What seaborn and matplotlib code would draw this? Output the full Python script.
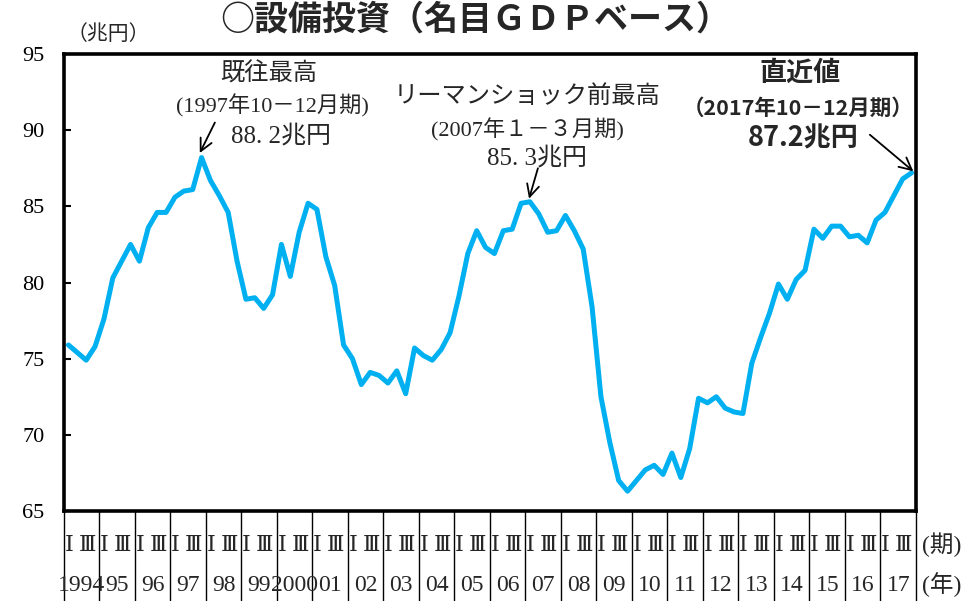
import numpy as np
import pandas as pd
import matplotlib
matplotlib.use('Agg')
import matplotlib.pyplot as plt
import matplotlib.transforms as mtransforms
import seaborn as sns

# ---- data ----
years = ['1994', '95', '96', '97', '98', '99', '2000', '01', '02', '03', '04', '05',
         '06', '07', '08', '09', '10', '11', '12', '13', '14', '15', '16', '17']
quarter_marks = ['Ⅰ', 'Ⅲ']
values = [75.9, 75.4, 74.9, 75.8, 77.6, 80.3, 81.4, 82.5, 81.4, 83.6,
          84.6, 84.6, 85.6, 86.0, 86.1, 88.2, 86.7, 85.7, 84.6, 81.4,
          78.9, 79.0, 78.3, 79.2, 82.5, 80.4, 83.3, 85.2, 84.8, 81.7,
          79.8, 75.9, 75.0, 73.3, 74.1, 73.9, 73.4, 74.2, 72.7, 75.7,
          75.2, 74.9, 75.6, 76.7, 79.1, 81.9, 83.4, 82.3, 81.9, 83.4,
          83.5, 85.2, 85.3, 84.5, 83.3, 83.4, 84.4, 83.4, 82.2, 78.4,
          72.5, 69.5, 67.0, 66.3, 67.0, 67.7, 68.0, 67.4, 68.8, 67.2,
          69.1, 72.4, 72.1, 72.5, 71.75, 71.5, 71.4, 74.7, 76.4, 78.0,
          79.9, 78.9, 80.2, 80.8, 83.5, 82.9, 83.7, 83.7, 83.0, 83.1,
          82.6, 84.1, 84.6, 85.7, 86.8, 87.2]
yticks = [65, 70, 75, 80, 85, 90, 95]

sns.set_style('white')
plt.rcParams['font.family'] = ['Liberation Serif', 'Noto Sans CJK JP']
JP = ['Liberation Serif', 'Noto Sans CJK JP']
GOTH = ['Noto Sans CJK JP']
ROMAN = ['DejaVu Serif', 'Noto Sans CJK JP']

W, H = 979, 601
fig = plt.figure(figsize=(W / 100, H / 100), dpi=100)
ax = fig.add_axes([64 / W, (H - 511) / H, (916 - 64) / W, (511 - 54) / H])

df = pd.DataFrame({'pos': np.arange(len(values)) + 0.5, 'value': values})
sns.lineplot(data=df, x='pos', y='value', ax=ax, color='#00B0F0', linewidth=3.6)

ax.set_xlim(0, 4 * len(years))
ax.set_ylim(65, 95)
ax.set_yticks(yticks)
ax.set_yticklabels([str(v) for v in yticks])
ax.set_xticks([])
ax.set_xlabel('')
ax.set_ylabel('')
ax.tick_params(axis='y', direction='in', length=5, width=1.5, labelsize=16, pad=14,
               colors='black', left=True)
for s in ax.spines.values():
    s.set_visible(True)
    s.set_linewidth(2.6)
    s.set_color('black')

# bottom category axis
trans = mtransforms.blended_transform_factory(ax.transData, ax.transAxes)
seps = np.arange(0, 4 * len(years) + 1, 4)
ax.vlines(seps, -0.2, 0, transform=trans, clip_on=False, color='black', lw=1.0)
for k, yr in enumerate(years):
    ax.text(4 * k + 0.55, -0.074, quarter_marks[0], transform=trans, ha='center', va='center',
            fontsize=16, family=ROMAN)
    ax.text(4 * k + 2.6, -0.074, quarter_marks[1], transform=trans, ha='center', va='center',
            fontsize=16, family=ROMAN)
    ax.text(4 * k + 2, -0.162, yr, transform=trans, ha='center', va='center', fontsize=17)
ax.text(98.9, -0.074, '(期)', transform=trans, ha='center', va='center', fontsize=17, family=JP)
ax.text(98.9, -0.162, '(年)', transform=trans, ha='center', va='center', fontsize=17, family=JP)

# titles
fig.text(475 / W, 1 - 19 / H, '○設備投資（名目ＧＤＰベース）', ha='center', va='center',
         fontsize=24.5, fontweight='bold', family=GOTH)
fig.text(108 / W, 1 - 35 / H, '（兆円）', ha='center', va='center', fontsize=15, family=JP)

arrow = dict(arrowstyle='->', color='black', lw=1.3, mutation_scale=22, shrinkA=0, shrinkB=0)

# 1997 peak
ax.text(23.0, 93.7, '既往最高', ha='center', va='center', fontsize=17.5, family=JP)
ax.text(23.5, 91.6, '(1997年10－12月期)', ha='center', va='center', fontsize=16, family=JP)
ax.text(24.45, 89.6, '88. 2兆円', ha='center', va='center', fontsize=18, family=JP)
ax.annotate('', xy=(15.3, 88.5), xytext=(17.0, 90.5), arrowprops=arrow)

# 2007 peak
ax.text(52.2, 92.2, 'リーマンショック前最高', ha='center', va='center', fontsize=17.5, family=JP)
ax.text(52.2, 90.0, '(2007年１－３月期)', ha='center', va='center', fontsize=16, family=JP)
ax.text(53.3, 88.2, '85. 3兆円', ha='center', va='center', fontsize=18, family=JP)
ax.annotate('', xy=(52.4, 85.5), xytext=(53.4, 87.5), arrowprops=arrow)

# latest
ax.text(82.9, 93.75, '直近値', ha='center', va='center', fontsize=19.5, fontweight='bold', family=GOTH)
ax.text(82.7, 91.45, '（2017年10－12月期）', ha='center', va='center', fontsize=15.5,
        fontweight='bold', family=GOTH)
ax.text(83.3, 89.45, '87.2兆円', ha='center', va='center', fontsize=19.5, fontweight='bold', family=GOTH)
ax.annotate('', xy=(95.7, 87.3), xytext=(90.8, 89.7), arrowprops=arrow, annotation_clip=False)

fig.savefig('out.png', dpi=100)
